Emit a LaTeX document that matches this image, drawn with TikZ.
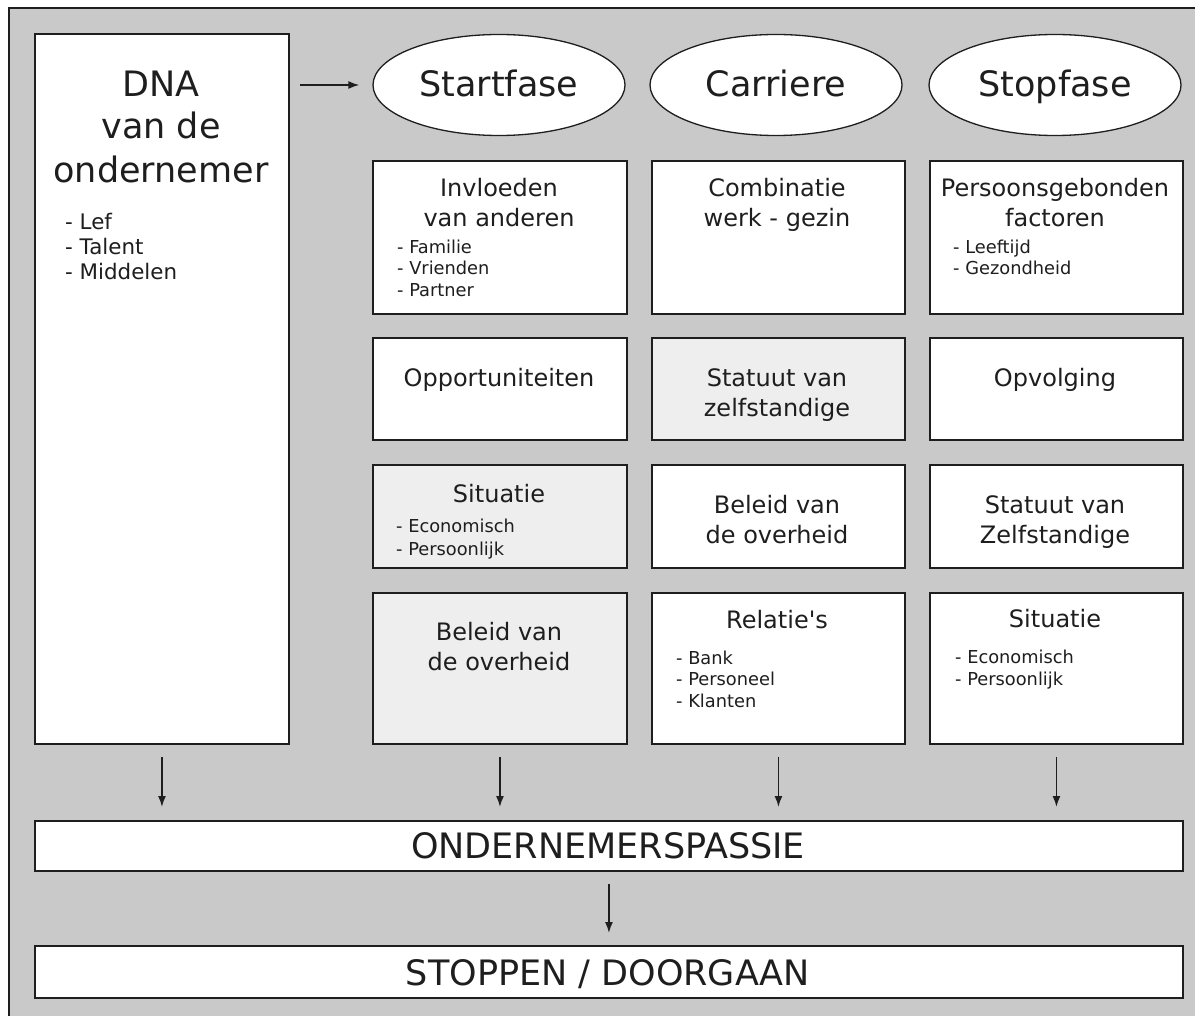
\documentclass[tikz,border=0pt]{standalone}
\usepackage{fontspec}
\setmainfont{DejaVu Sans}
\usetikzlibrary{shapes.geometric,arrows.meta}
\definecolor{panel}{HTML}{C9C9C9}
\definecolor{shade}{HTML}{EEEEEE}
\definecolor{ink}{HTML}{1E1E1E}

\begin{document}
\begin{tikzpicture}[x=1pt,y=-1pt,
  box/.style={draw=ink, line width=1.9pt, fill=white, rectangle, inner sep=0pt, anchor=north west},
  phase/.style={draw=ink, line width=1.3pt, fill=white, ellipse, inner sep=0pt,
    minimum width=252pt, minimum height=101pt},
  txt/.style={text=ink, inner sep=0pt, anchor=base},
  item/.style={text=ink, inner sep=0pt, anchor=base west, font=\fontsize{17.8}{21}\selectfont},
  dnaitem/.style={text=ink, inner sep=0pt, anchor=base west, font=\fontsize{21.4}{25}\selectfont},
  ttl/.style={txt, font=\fontsize{24}{30}\selectfont},
  huge/.style={txt, font=\fontsize{35}{42}\selectfont},
  arr/.style={-{Latex[length=11pt,width=8pt]}, draw=ink, line width=1.6pt}
]
\useasboundingbox (0,0) rectangle (1195,1016);
\clip (0,0) rectangle (1195,1016);

% grey panel with its frame
\fill[panel] (9,8) rectangle (1210,1030);
\draw[ink, line width=1.4pt] (1210,8) -- (9,8) -- (9,1030);

% DNA column
\node[box, minimum width=254pt, minimum height=710pt] (dna) at (34,33) {};
\node[huge] (dna1) at (161,97) {DNA};
\node[huge] (dna2) at (161,139) {van de};
\node[huge] (dna3) at (161,183) {ondernemer};
\node[dnaitem] (dnai1) at (65,230) {- Lef};
\node[dnaitem] (dnai2) at (65,255) {- Talent};
\node[dnaitem] (dnai3) at (65,280) {- Middelen};

% phases
\node[phase] (ph1) at (499,85) {};
\node[phase] (ph2) at (776,85) {};
\node[phase] (ph3) at (1055,85) {};
\node[huge] (pht1) at (499,97) {Startfase};
\node[huge] (pht2) at (776,97) {Carriere};
\node[huge] (pht3) at (1055,97) {Stopfase};

% row 1
\node[box, minimum width=254pt, minimum height=153pt] (a1) at (372,160) {};
\node[box, minimum width=253pt, minimum height=153pt] (b1) at (651,160) {};
\node[box, minimum width=253pt, minimum height=153pt] (c1) at (929,160) {};
\node[ttl] (a1t1) at (499,197) {Invloeden};
\node[ttl] (a1t2) at (499,227) {van anderen};
\node[item] (a1i1) at (397,254) {- Familie};
\node[item] (a1i2) at (397,275) {- Vrienden};
\node[item] (a1i3) at (397,297) {- Partner};
\node[ttl] (b1t1) at (777,197) {Combinatie};
\node[ttl] (b1t2) at (777,227) {werk - gezin};
\node[ttl] (c1t1) at (1055,197) {Persoonsgebonden};
\node[ttl] (c1t2) at (1055,227) {factoren};
\node[item] (c1i1) at (953,254) {- Leeftijd};
\node[item] (c1i2) at (953,275) {- Gezondheid};

% row 2
\node[box, minimum width=254pt, minimum height=102pt] (a2) at (372,337) {};
\node[box, fill=shade, minimum width=253pt, minimum height=102pt] (b2) at (651,337) {};
\node[box, minimum width=253pt, minimum height=102pt] (c2) at (929,337) {};
\node[ttl] (a2t1) at (499,387) {Opportuniteiten};
\node[ttl] (b2t1) at (777,387) {Statuut van};
\node[ttl] (b2t2) at (777,417) {zelfstandige};
\node[ttl] (c2t1) at (1055,387) {Opvolging};

% row 3
\node[box, fill=shade, minimum width=254pt, minimum height=103pt] (a3) at (372,464) {};
\node[box, minimum width=253pt, minimum height=103pt] (b3) at (651,464) {};
\node[box, minimum width=253pt, minimum height=103pt] (c3) at (929,464) {};
\node[ttl] (a3t1) at (499,502) {Situatie};
\node[item] (a3i1) at (396,532) {- Economisch};
\node[item] (a3i2) at (396,555) {- Persoonlijk};
\node[ttl] (b3t1) at (777,513) {Beleid van};
\node[ttl] (b3t2) at (777,543) {de overheid};
\node[ttl] (c3t1) at (1055,513) {Statuut van};
\node[ttl] (c3t2) at (1055,543) {Zelfstandige};

% row 4
\node[box, fill=shade, minimum width=254pt, minimum height=151pt] (a4) at (372,592) {};
\node[box, minimum width=253pt, minimum height=151pt] (b4) at (651,592) {};
\node[box, minimum width=253pt, minimum height=151pt] (c4) at (929,592) {};
\node[ttl] (a4t1) at (499,640) {Beleid van};
\node[ttl] (a4t2) at (499,670) {de overheid};
\node[ttl] (b4t1) at (777,628) {Relatie\textquotesingle s};
\node[item] (b4i1) at (676,664) {- Bank};
\node[item] (b4i2) at (676,685) {- Personeel};
\node[item] (b4i3) at (676,707) {- Klanten};
\node[ttl] (c4t1) at (1055,627) {Situatie};
\node[item] (c4i1) at (955,663) {- Economisch};
\node[item] (c4i2) at (955,685) {- Persoonlijk};

% outcome bars
\node[box, minimum width=1148pt, minimum height=50pt] (pas) at (34,820) {};
\node[huge] (past) at (608,858) {ONDERNEMERSPASSIE};
\node[box, minimum width=1148pt, minimum height=52pt] (stop) at (34,945) {};
\node[huge] (stopt) at (608,985) {STOPPEN / DOORGAAN};

% connectors
\draw[arr, shorten <=10pt, shorten >=13pt] (dna.east |- ph1.west) -- (ph1.west);
\draw[arr, shorten <=12pt, shorten >=13pt] (dna.south) -- (dna.south |- pas.north);
\draw[arr, shorten <=12pt, shorten >=13pt] (a4.south) -- (a4.south |- pas.north);
\draw[arr, shorten <=12pt, shorten >=13pt] (b4.south) -- (b4.south |- pas.north);
\draw[arr, shorten <=12pt, shorten >=13pt] (c4.south) -- (c4.south |- pas.north);
\draw[arr, shorten <=12pt, shorten >=12pt] (pas.south) -- (stop.north);
\end{tikzpicture}
\end{document}
